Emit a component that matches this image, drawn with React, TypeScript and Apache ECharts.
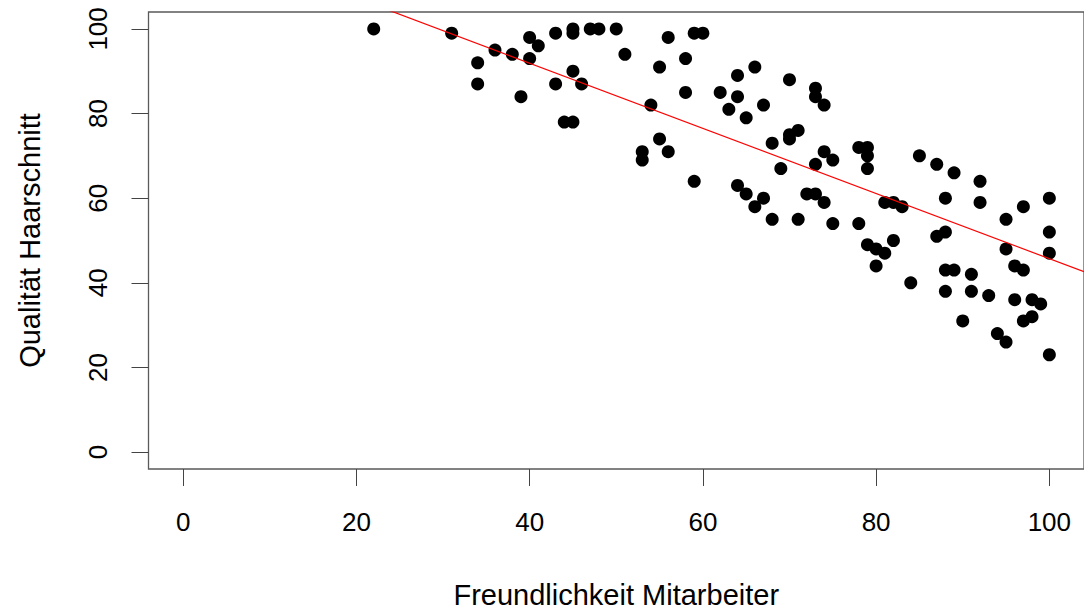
import React, { useEffect, useRef } from "react";
import * as echarts from "echarts";

const friendliness: number[] = [
  22, 31, 34, 34, 36, 38, 39, 40, 40, 41, 43, 43, 44, 45, 45, 45, 45, 46, 47, 48,
  50, 51, 53, 53, 54, 55, 55, 56, 56, 58, 58, 59, 59, 60, 62, 63, 64, 64, 64, 65,
  65, 66, 66, 67, 67, 68, 68, 69, 70, 70, 70, 71, 71, 72, 73, 73, 73, 73, 74, 74,
  74, 75, 75, 78, 78, 79, 79, 79, 79, 80, 80, 81, 81, 82, 82, 83, 84, 85, 87, 87,
  88, 88, 88, 88, 89, 89, 90, 91, 91, 92, 92, 93, 94, 95, 95, 95, 96, 96, 97, 97,
  97, 98, 98, 99, 100, 100, 100, 100,
];
const haircutQuality: number[] = [
  100, 99, 92, 87, 95, 94, 84, 98, 93, 96, 99, 87, 78, 78, 100, 99, 90, 87, 100, 100,
  100, 94, 71, 69, 82, 91, 74, 98, 71, 93, 85, 99, 64, 99, 85, 81, 89, 84, 63, 79,
  61, 91, 58, 82, 60, 73, 55, 67, 88, 75, 74, 76, 55, 61, 86, 84, 68, 61, 82, 71,
  59, 69, 54, 72, 54, 72, 70, 67, 49, 48, 44, 59, 47, 59, 50, 58, 40, 70, 68, 51,
  60, 52, 43, 38, 66, 43, 31, 42, 38, 64, 59, 37, 28, 55, 48, 26, 44, 36, 58, 43,
  31, 36, 32, 35, 60, 52, 47, 23,
];
const tickValues: number[] = [0, 20, 40, 60, 80, 100];
const regIntercept = 122.7;
const regSlope = -0.77;
const axisMin = -4;
const axisMax = 104;

const xTitle = "Freundlichkeit Mitarbeiter";
const yTitle = "Qualität Haarschnitt";

export default function App() {
  const ref = useRef<HTMLDivElement>(null);
  useEffect(() => {
    if (!ref.current) return;
    const chart = echarts.init(ref.current, undefined, { renderer: "svg" });
    const points = friendliness.map((x, i) => [x, haircutQuality[i]]);
    const lineData = [axisMin, axisMax].map((x) => [x, regIntercept + regSlope * x]);
    const font = "'Liberation Sans', Arial, sans-serif";
    chart.setOption({
      animation: false,
      backgroundColor: "#ffffff",
      grid: {
        left: 148.5,
        top: 12,
        width: 940,
        height: 466,
        show: true,
        borderColor: "#5a5a5a",
        borderWidth: 1.3,
        backgroundColor: "transparent",
      },
      xAxis: {
        type: "value",
        min: axisMin,
        max: axisMax,
        splitLine: { show: false },
        axisLine: { show: false, onZero: false },
        axisTick: {
          show: true,
          inside: false,
          customValues: tickValues,
          length: 17,
          lineStyle: { color: "#444", width: 1 },
        },
        axisLabel: {
          customValues: tickValues,
          margin: 40,
          fontSize: 26,
          color: "#000",
          fontFamily: font,
        },
        name: xTitle,
        nameLocation: "middle",
        nameGap: 111,
        nameTextStyle: { fontSize: 29, color: "#000", fontFamily: font },
      },
      yAxis: {
        type: "value",
        min: axisMin,
        max: axisMax,
        splitLine: { show: false },
        axisLine: { show: false, onZero: false },
        axisTick: {
          show: true,
          inside: false,
          customValues: tickValues,
          length: 17,
          lineStyle: { color: "#444", width: 1 },
        },
        axisLabel: {
          customValues: tickValues,
          margin: 38,
          rotate: 90,
          fontSize: 26,
          color: "#000",
          fontFamily: font,
        },
        name: yTitle,
        nameLocation: "middle",
        nameGap: 104,
        nameTextStyle: { fontSize: 29, color: "#000", fontFamily: font },
      },
      series: [
        {
          type: "scatter",
          data: points,
          symbol: "circle",
          symbolSize: 13,
          itemStyle: { color: "#000", opacity: 1 },
          z: 3,
        },
        {
          type: "line",
          data: lineData,
          showSymbol: false,
          symbol: "none",
          clip: true,
          lineStyle: { color: "#ff0000", width: 1.2 },
          z: 4,
        },
      ],
    });
    return () => chart.dispose();
  }, []);
  return (
    <div
      ref={ref}
      style={{ position: "fixed", left: 0, top: 0, width: 1084, height: 614 }}
    />
  );
}
